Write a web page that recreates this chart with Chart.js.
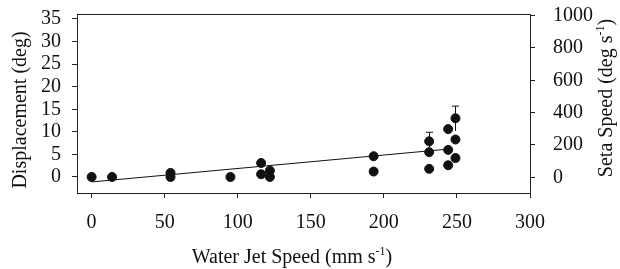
<!DOCTYPE html>
<html>
<head>
<meta charset="utf-8">
<script src="https://cdn.jsdelivr.net/npm/chart.js@4.4.0/dist/chart.umd.min.js"></script>
<style>
  html, body { margin: 0; padding: 0; background: #fff; }
  #wrap { width: 620px; height: 269px; }
</style>
</head>
<body>
<div id="wrap"><canvas id="chart" width="620" height="269"></canvas></div>
<script>
  // Data
  const jetSpeed = [0, 14, 54, 54, 95, 116, 116, 122, 122, 193, 193, 231, 231, 231, 244, 244, 244, 249, 249, 249];
  const displacement = [0, 0, 0.9, 0, 0, 3.1, 0.6, 1.4, 0, 4.6, 1.2, 7.9, 5.5, 1.8, 10.6, 6.0, 2.6, 13.0, 8.3, 4.2];

  // Error bars (mean, low, high)
  const errSpeed = [231, 249];
  const errLow = [5.9, 10.2];
  const errHigh = [9.9, 15.7];

  // Fitted line
  const fitSpeed = [0, 245];
  const fitDisp = [-1.1, 6.2];

  // Tick labels
  const xTicks = [0, 50, 100, 150, 200, 250, 300];
  const yTicks = [0, 5, 10, 15, 20, 25, 30, 35];
  const y2Ticks = [0, 200, 400, 600, 800, 1000];

  const serif = "'Liberation Serif', 'Times New Roman', serif";
  const tickFont = { family: serif, size: 20 };

  // Draw a label with a superscript part
  function drawRich(ctx, parts, cx, cy, angle) {
    const size = 20, supSize = 12;
    ctx.save();
    ctx.translate(cx, cy);
    ctx.rotate(angle);
    ctx.fillStyle = '#111';
    ctx.textBaseline = 'alphabetic';
    ctx.textAlign = 'left';
    let total = 0;
    parts.forEach(p => {
      ctx.font = (p.sup ? supSize : size) + 'px ' + serif;
      p.w = ctx.measureText(p.t).width;
      total += p.w;
    });
    let x = -total / 2;
    parts.forEach(p => {
      ctx.font = (p.sup ? supSize : size) + 'px ' + serif;
      ctx.fillText(p.t, x, p.sup ? -1.5 : 6.5);
      x += p.w;
    });
    ctx.restore();
  }

  const extras = {
    id: 'extras',
    beforeDatasetsDraw(chart) {
      const ctx = chart.ctx;
      const xs = chart.scales.x, ys = chart.scales.y;
      ctx.save();
      ctx.strokeStyle = '#111';
      ctx.lineWidth = 1;
      errSpeed.forEach((v, i) => {
        const px = Math.round(xs.getPixelForValue(v)) + 0.5;
        const top = ys.getPixelForValue(errHigh[i]);
        const bot = ys.getPixelForValue(errLow[i]);
        ctx.beginPath();
        ctx.moveTo(px, bot);
        ctx.lineTo(px, top);
        ctx.moveTo(px - 3.5, top);
        ctx.lineTo(px + 3.5, top);
        ctx.stroke();
      });
      ctx.restore();
    },
    afterDraw(chart) {
      const ctx = chart.ctx;
      const a = chart.chartArea;
      ctx.save();
      ctx.strokeStyle = '#222';
      ctx.lineWidth = 1;
      ctx.strokeRect(Math.round(a.left) + 0.5, Math.round(a.top) + 0.5,
        Math.round(a.right - a.left), Math.round(a.bottom - a.top));
      ctx.restore();

      drawRich(ctx, [{ t: 'Water Jet Speed (mm s' }, { t: '-1', sup: true }, { t: ')' }],
        292, 256, 0);
      drawRich(ctx, [{ t: 'Displacement (deg)' }], 19, 110, -Math.PI / 2);
      drawRich(ctx, [{ t: 'Seta Speed (deg s' }, { t: '-1', sup: true }, { t: ')' }],
        605, 98, -Math.PI / 2);
    }
  };

  const plain = v => String(v);
  // fixed axis box sizes so the plot area lands where the figure has it
  const fixWidth = w => s => { s.width = w; s.paddingTop = 0; s.paddingBottom = 0; };

  const ctx = document.getElementById('chart').getContext('2d');
  new Chart(ctx, {
    type: 'scatter',
    data: {
      datasets: [
        {
          type: 'line',
          label: 'Fit',
          data: fitSpeed.map((x, i) => ({ x: x, y: fitDisp[i] })),
          borderColor: '#111',
          borderWidth: 1,
          pointRadius: 0,
          fill: false
        },
        {
          label: 'Displacement',
          data: jetSpeed.map((x, i) => ({ x: x, y: displacement[i] })),
          backgroundColor: '#111',
          borderColor: '#111',
          pointRadius: 4.5,
          pointHoverRadius: 4.5
        }
      ]
    },
    plugins: [extras],
    options: {
      responsive: false,
      animation: false,
      layout: { padding: { top: 14, left: 0, right: 0, bottom: 0 } },
      plugins: {
        legend: { display: false },
        tooltip: { enabled: false }
      },
      scales: {
        x: {
          type: 'linear',
          min: -10,
          max: 300,
          afterBuildTicks: s => { s.ticks = xTicks.map(v => ({ value: v })); },
          afterFit: s => { s.height = 76; },
          grid: { drawOnChartArea: false, tickLength: 5, color: '#222' },
          border: { color: '#222' },
          ticks: { font: tickFont, color: '#111', padding: 13, maxRotation: 0, autoSkip: false, callback: plain }
        },
        y: {
          position: 'left',
          min: -3.55,
          max: 36.1,
          afterBuildTicks: s => { s.ticks = yTicks.map(v => ({ value: v })); },
          afterFit: fixWidth(77),
          grid: { drawOnChartArea: false, tickLength: 5, color: '#222' },
          border: { color: '#222' },
          ticks: { font: tickFont, color: '#111', padding: 11, autoSkip: false, callback: plain }
        },
        y2: {
          position: 'right',
          min: -97,
          max: 1010,
          afterBuildTicks: s => { s.ticks = y2Ticks.map(v => ({ value: v })); },
          afterFit: fixWidth(90),
          grid: { drawOnChartArea: false, tickLength: 5, color: '#222' },
          border: { color: '#222' },
          ticks: { font: tickFont, color: '#111', padding: 18, autoSkip: false, callback: plain }
        }
      }
    }
  });
</script>
</body>
</html>
